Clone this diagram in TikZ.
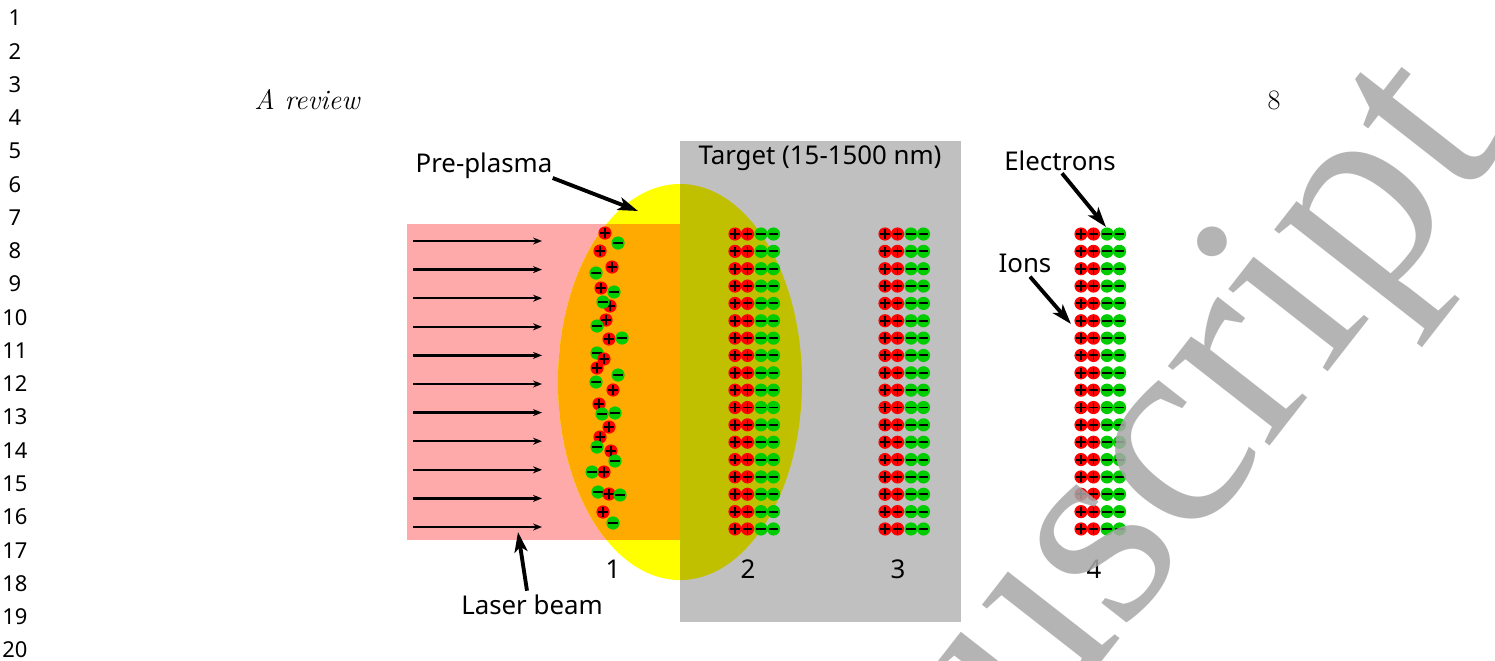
\documentclass[tikz,border=0pt]{standalone}
\usepackage{fontspec}
\setmainfont{Latin Modern Roman}
\newfontfamily\labelfont{Noto Sans}
\newfontfamily\markfont{Liberation Serif}
\usetikzlibrary{positioning,arrows.meta}
\definecolor{laserpink}{HTML}{FFAAAA}
\definecolor{plasmayellow}{HTML}{FFFF00}
\definecolor{plasmaorange}{HTML}{FFAA00}
\definecolor{targetgrey}{HTML}{C0C0C0}
\definecolor{targetolive}{HTML}{C0C000}
\definecolor{ionred}{HTML}{FF0000}
\definecolor{elgreen}{HTML}{00CC00}
\definecolor{markgrey}{HTML}{A8A8A8}
\tikzset{
  lbl/.style={font=\labelfont\fontsize{14.7}{16}\selectfont, inner sep=0pt},
  sign/.style={line width=1.1pt, black},
  pointer/.style={-{Stealth[length=20\pxu, width=13\pxu, inset=5\pxu]}, line width=2.2pt},
  beam/.style={-{Stealth[length=9\pxu, width=7\pxu]}, line width=1.3pt}
}
\newcommand{\pxu}{*0.02cm}
\newcommand{\ionat}[2]{\fill[ionred] (#1,#2) circle[radius=6.6];
  \draw[sign] (#1-4.8,#2) -- (#1+4.8,#2) (#1,#2-4.8) -- (#1,#2+4.8);}
\newcommand{\elat}[2]{\fill[elgreen] (#1,#2) circle[radius=6.6];
  \draw[sign] (#1-4.8,#2) -- (#1+4.8,#2);}
\begin{document}
\begin{tikzpicture}[x=0.02cm, y=-0.02cm]
\useasboundingbox (0,0) rectangle (1495,660);
\fill[white] (0,0) rectangle (1495,660);

% line numbers
\foreach \i in {1,...,20}
  \node[lbl, font=\labelfont\fontsize{12.5}{13}\selectfont] (ln\i) at (15, {18+(\i-1)*33.26}) {\i};

\node[font=\itshape\fontsize{16}{18}\selectfont] (head) at (307,100) {A review};
\node[font=\fontsize{16}{18}\selectfont] (page) at (1274,100) {8};

% laser, plasma, target
\fill[laserpink] (407,224) rectangle (680,540);
\fill[plasmayellow] (680,382) ellipse [x radius=122, y radius=198];
\fill[targetgrey] (680,141) rectangle (961,622);
\begin{scope}
  \clip (680,382) ellipse [x radius=122, y radius=198];
  \fill[plasmaorange] (407,224) rectangle (680,540);
  \fill[targetolive] (680,141) rectangle (961,622);
\end{scope}

% laser arrows
\foreach \k in {0,...,10} {
  \coordinate (bs\k) at (413, {241+\k*28.6});
  \coordinate (be\k) at (542, {241+\k*28.6});
  \draw[beam] (bs\k) -- (be\k);
}

% stage 1: scattered pre-plasma
\ionat{605}{233} \elat{618}{243} \ionat{600}{251} \ionat{612}{267}
\elat{596}{273} \ionat{601}{288} \elat{614}{292} \ionat{610}{306}
\elat{603}{302} \ionat{606}{320} \elat{597}{326} \ionat{609}{339}
\elat{622}{338} \elat{597}{353} \ionat{604}{359} \ionat{597}{368}
\elat{618}{375} \elat{596}{382} \ionat{613}{390} \ionat{599}{404}
\elat{602}{414} \elat{615}{413} \ionat{609}{427} \ionat{600}{437}
\ionat{611}{451} \elat{597}{447} \elat{615}{461} \ionat{604}{472}
\elat{592}{472} \elat{598}{492} \ionat{609}{494} \elat{620}{495}
\ionat{603}{512} \elat{613}{523}

% stages 2-4: layered ions and electrons
\foreach \cx in {735,885,1081}
  \foreach \r in {0,...,17} {
    \pgfmathsetmacro\cy{234+\r*17.35}
    \ionat{\cx}{\cy}
    \ionat{\cx+12.5}{\cy}
    \elat{\cx+26}{\cy}
    \elat{\cx+38.5}{\cy}
  }

% labels
\node[lbl] (target) at (820,158) {Target (15-1500 nm)};
\node[lbl] (pre) at (484,166) {Pre-plasma};
\node[lbl] (laser) at (532,605) {Laser beam};
\node[lbl] (electrons) at (1060,161) {Electrons};
\node[lbl] (ions) at (1025,263) {Ions};
\node[lbl] (s1) at (613,569) {1};
\node[lbl] (s2) at (748,569) {2};
\node[lbl] (s3) at (898,569) {3};
\node[lbl] (s4) at (1094,569) {4};

\coordinate (prehit) at (638,211);
\coordinate (laserhit) at (518,532);
\coordinate (elhit) at (1106,227);
\coordinate (ionhit) at (1071,324);
\draw[pointer] (pre.east) ++(0,12) -- (prehit);
\draw[pointer] (laser.north) ++(-5,-4) -- (laserhit);
\draw[pointer] (electrons.south) ++(2,2) -- (elhit);
\draw[pointer] (ions.south) ++(5,4) -- (ionhit);

% watermark
\begin{scope}
  \clip (0,0) rectangle (1495,660);
  \node[text=markgrey, opacity=0.85, rotate=52, font=\markfont\fontsize{160}{160}\selectfont] (mark) at (1222,405) {uscript};
\end{scope}
\end{tikzpicture}
\end{document}
